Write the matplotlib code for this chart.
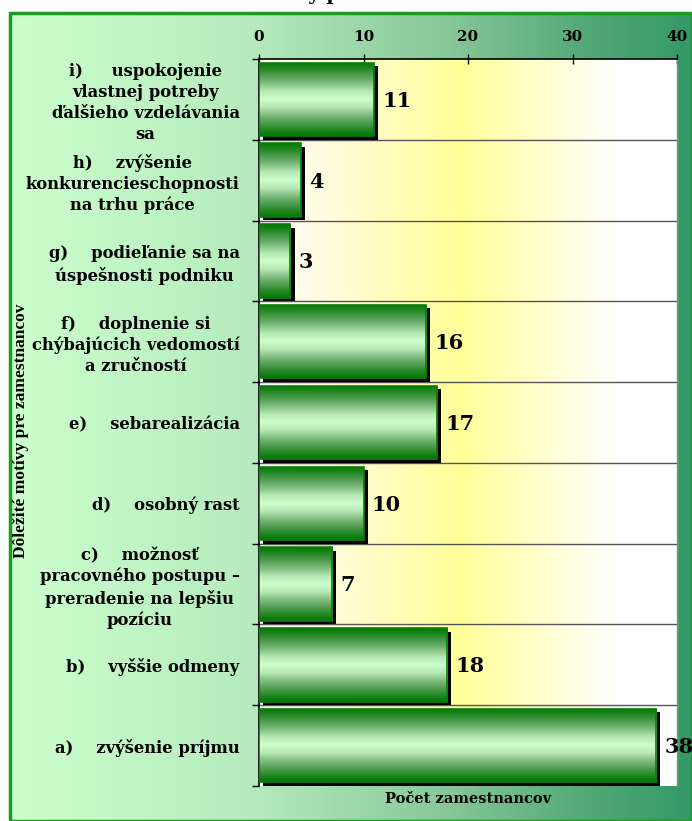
import numpy as np
import matplotlib
matplotlib.use("Agg")
import matplotlib.pyplot as plt
from matplotlib.colors import LinearSegmentedColormap
from matplotlib.patches import Rectangle
from matplotlib.transforms import offset_copy

# motívy zamestnancov, zdola nahor (a -> i)
motivy = [
    "a)    zvýšenie príjmu",
    "b)    vyššie odmeny",
    "c)    možnosť\npracovného postupu –\npreradenie na lepšiu\npozíciu",
    "d)    osobný rast",
    "e)    sebarealizácia",
    "f)    doplnenie si\nchýbajúcich vedomostí\na zručností",
    "g)    podieľanie sa na\núspešnosti podniku",
    "h)    zvýšenie\nkonkurencieschopnosti\nna trhu práce",
    "i)     uspokojenie\nvlastnej potreby\nďalšieho vzdelávania\nsa",
]
pocet = [38, 18, 7, 10, 17, 16, 3, 4, 11]
x_ticks = [0, 10, 20, 30, 40]

W, H = 692, 821
fig = plt.figure(figsize=(W / 100, H / 100), dpi=100)
fig.patch.set_facecolor("white")

serif = "DejaVu Serif"

# pozadie grafu - prechod svetlozelená -> tmavozelená
bg = fig.add_axes([10 / W, 0, 1 - 10 / W, 1 - 13 / H], zorder=0)
bg_cmap = LinearSegmentedColormap.from_list(
    "bg", [(0, "#ccffcc"), (0.35, "#b6ebbe"), (0.65, "#86c697"),
           (0.85, "#52a877"), (1, "#339966")])
bg.imshow(np.linspace(0, 1, 256)[None, :], cmap=bg_cmap, aspect="auto",
          extent=(0, 1, 0, 1))
bg.set_xlim(0, 1)
bg.set_ylim(0, 1)
bg.axis("off")
bg.add_patch(Rectangle((0, 0), 1, 1, transform=bg.transAxes, fill=False,
                       edgecolor="#1e9a1e", lw=2.5, clip_on=False))

# nadpis (z obrázka vytŕčajú len dolné dotiahnutia písmen)
fig.text(0.355, 1 + 0.5 / H, "Motívy pre zamestnancov", fontsize=14,
         fontweight="bold", family=serif, va="baseline", ha="left")

ax = fig.add_axes([259 / W, 1 - 786 / H, (677 - 259) / W, (786 - 59) / H], zorder=1)
ax.set_xlim(0, 40)
ax.set_ylim(-0.5, len(motivy) - 0.5)

# plocha grafu - biela -> žltá -> biela
area_cmap = LinearSegmentedColormap.from_list(
    "area", [(0, "#ffffff"), (0.12, "#fffbe6"), (0.48, "#ffff99"),
             (0.86, "#ffffff"), (1, "#ffffff")])
ax.imshow(np.linspace(0, 1, 256)[None, :], cmap=area_cmap, aspect="auto",
          extent=(0, 40, -0.5, len(motivy) - 0.5), zorder=0)

y = np.arange(len(motivy))
h = 0.91

# oddeľovacie čiary medzi kategóriami
for b in np.arange(0.5, len(motivy) - 1, 1.0):
    ax.axhline(b, color="#555555", lw=1, zorder=1)

# tieň stĺpcov
shadow = ax.barh(y, pocet, height=h, color="black", zorder=2)
sh_tr = offset_copy(ax.transData, fig=fig, x=3, y=-2.5, units="points")
for p in shadow:
    p.set_transform(sh_tr)

# stĺpce s vertikálnym prechodom (tmavé okraje, svetlý stred)
bar_cmap = LinearSegmentedColormap.from_list(
    "bar", [(0, "#ccffcc"), (0.2, "#b8eab8"), (0.5, "#70b070"),
            (0.8, "#2a8a2a"), (1, "#007800")])
t = np.linspace(-1, 1, 200)
prof = np.abs(t)[:, None]
bars = ax.barh(y, pocet, height=h, facecolor="none", edgecolor="#0a800a",
               lw=1.2, zorder=4)
for p, yi, v in zip(bars, y, pocet):
    im = ax.imshow(prof, cmap=bar_cmap, aspect="auto", vmin=0, vmax=1,
                   extent=(0, v, yi - h / 2, yi + h / 2), zorder=3)
    im.set_clip_path(p)
    ax.annotate(str(v), (v, yi), xytext=(6, -1), textcoords="offset points",
                va="center", ha="left", fontsize=15, fontweight="bold",
                family=serif, annotation_clip=False, zorder=5)

# osi
ax.xaxis.tick_top()
ax.set_xticks(x_ticks)
ax.tick_params(axis="x", direction="inout", length=7, width=1, pad=7,
               labelsize=11)
for lbl in ax.get_xticklabels():
    lbl.set_fontweight("bold")
    lbl.set_family(serif)

ax.set_yticks(y)
ax.set_yticklabels(motivy)
ax.set_yticks(np.arange(-0.5, len(motivy), 1.0), minor=True)
ax.tick_params(axis="y", which="major", length=0, pad=14)
ax.tick_params(axis="y", which="minor", length=5, width=1, direction="out")
for lbl in ax.get_yticklabels():
    lbl.set_fontweight("bold")
    lbl.set_family(serif)
    lbl.set_fontsize(11.8)
    lbl.set_multialignment("center")
    lbl.set_linespacing(1.3)

ax.spines["bottom"].set_visible(False)
ax.spines["right"].set_color("#888888")
ax.spines["right"].set_linewidth(1)
ax.spines["top"].set_linewidth(1.2)
ax.spines["left"].set_linewidth(1.2)

fig.text(468 / W, 1 - 799 / H, "Počet zamestnancov", ha="center", va="center",
         fontsize=10.5, fontweight="bold", family=serif)
fig.text(21 / W, 1 - 431 / H, "Dôležité motívy pre zamestnancov", rotation=90,
         ha="center", va="center", fontsize=12.5, fontweight="bold",
         family="Liberation Serif")

fig.savefig("out.png", dpi=100)
